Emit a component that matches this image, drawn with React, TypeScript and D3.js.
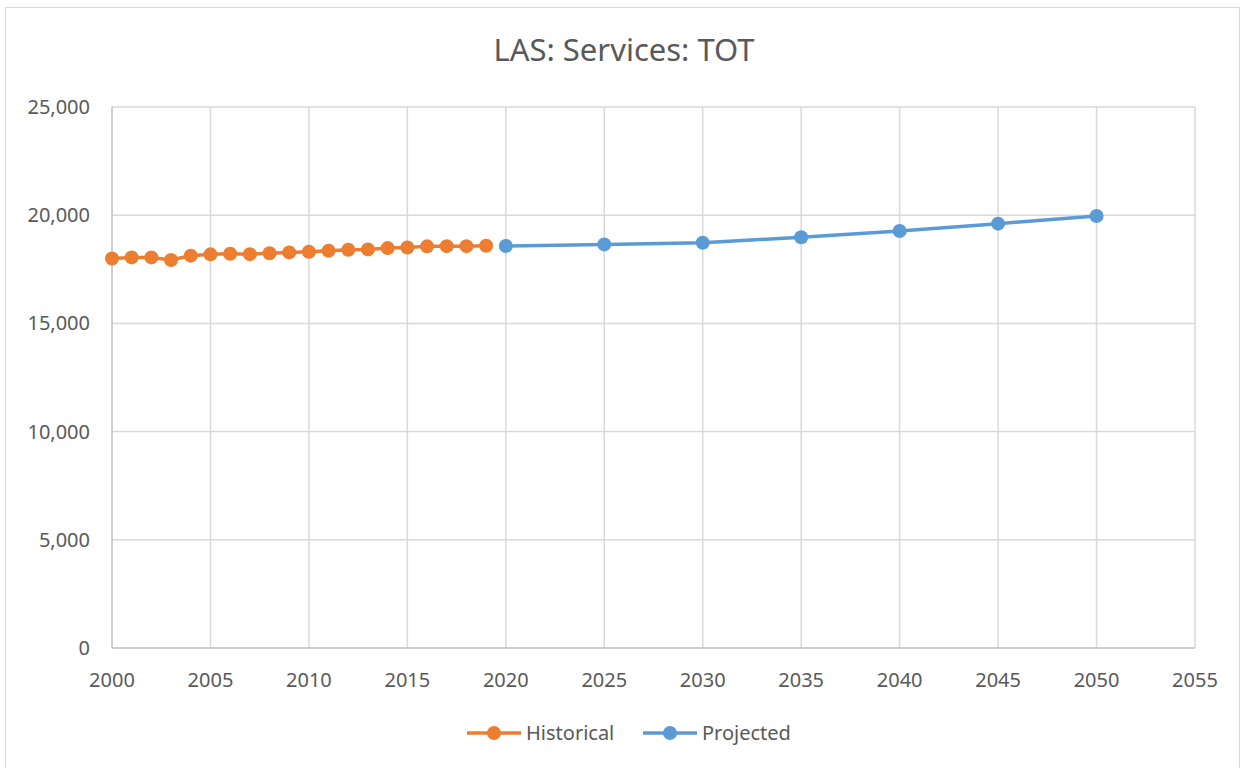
import React, { useEffect, useRef } from "react";
import * as d3 from "d3";

const histYears = [2000, 2001, 2002, 2003, 2004, 2005, 2006, 2007, 2008, 2009, 2010, 2011, 2012, 2013, 2014, 2015, 2016, 2017, 2018, 2019];
const histValues = [18000, 18050, 18050, 17930, 18130, 18190, 18220, 18200, 18240, 18280, 18310, 18360, 18400, 18420, 18480, 18510, 18560, 18570, 18570, 18590];
const projYears = [2020, 2025, 2030, 2035, 2040, 2045, 2050];
const projValues = [18580, 18650, 18730, 18980, 19270, 19610, 19960];
const xTicks = [2000, 2005, 2010, 2015, 2020, 2025, 2030, 2035, 2040, 2045, 2050, 2055];
const yTicks = [0, 5000, 10000, 15000, 20000, 25000];

const W = 1242;
const H = 768;
const font = "'Noto Sans', 'Open Sans', sans-serif";

const App = () => {
  const svgRef = useRef<SVGSVGElement>(null);

  useEffect(() => {
    const svg = d3.select(svgRef.current);
    svg.selectAll("*").remove();

    const x = d3.scaleLinear().domain([2000, 2055]).range([112, 1195]);
    const y = d3.scaleLinear().domain([0, 25000]).range([648, 107]);

    // chart border
    svg.append("rect")
      .attr("x", 5.5).attr("y", 7.5)
      .attr("width", 1234).attr("height", 770)
      .attr("fill", "#fff").attr("stroke", "#d9d9d9");

    // title
    svg.append("text")
      .attr("x", 624).attr("y", 61)
      .attr("text-anchor", "middle")
      .style("font-family", font).style("font-size", "31px")
      .attr("fill", "#595959")
      .text("LAS: Services: TOT");

    // grid
    const grid = svg.append("g");
    grid.selectAll(".hg").data(yTicks.slice(1)).join("line")
      .attr("x1", x(2000)).attr("x2", x(2055))
      .attr("y1", (d) => y(d)).attr("y2", (d) => y(d))
      .attr("stroke", "#d9d9d9").attr("stroke-width", 1.5);
    grid.selectAll(".vg").data(xTicks.slice(1)).join("line")
      .attr("x1", (d) => x(d)).attr("x2", (d) => x(d))
      .attr("y1", y(25000)).attr("y2", y(0))
      .attr("stroke", "#d9d9d9").attr("stroke-width", 1.5);

    // axis lines
    svg.append("line")
      .attr("x1", x(2000)).attr("x2", x(2055)).attr("y1", y(0)).attr("y2", y(0))
      .attr("stroke", "#bfbfbf").attr("stroke-width", 1.5);
    svg.append("line")
      .attr("x1", x(2000)).attr("x2", x(2000)).attr("y1", y(25000)).attr("y2", y(0))
      .attr("stroke", "#bfbfbf").attr("stroke-width", 1.5);

    // tick labels
    svg.append("g").selectAll("text").data(yTicks).join("text")
      .attr("x", 90).attr("y", (d) => y(d))
      .attr("dy", "0.35em").attr("text-anchor", "end")
      .style("font-family", font).style("font-size", "20px")
      .attr("fill", "#595959")
      .text((d) => d3.format(",")(d));
    svg.append("g").selectAll("text").data(xTicks).join("text")
      .attr("x", (d) => x(d)).attr("y", 680)
      .attr("dy", "0.35em").attr("text-anchor", "middle")
      .style("font-family", font).style("font-size", "20px")
      .attr("fill", "#595959")
      .text((d) => String(d));

    const line = d3.line<[number, number]>().x((d) => x(d[0])).y((d) => y(d[1]));

    const series = [
      { name: "Historical", color: "#ED7D31", data: histYears.map((yr, i) => [yr, histValues[i]] as [number, number]) },
      { name: "Projected", color: "#5B9BD5", data: projYears.map((yr, i) => [yr, projValues[i]] as [number, number]) },
    ];

    series.forEach((s) => {
      svg.append("path").datum(s.data)
        .attr("d", line).attr("fill", "none")
        .attr("stroke", s.color).attr("stroke-width", 3.5);
      svg.append("g").selectAll("circle").data(s.data).join("circle")
        .attr("cx", (d) => x(d[0])).attr("cy", (d) => y(d[1]))
        .attr("r", 7).attr("fill", s.color);
    });

    // legend
    const legendX = [467, 643];
    series.forEach((s, i) => {
      const g = svg.append("g").attr("transform", `translate(${legendX[i]},733)`);
      g.append("line").attr("x1", 0).attr("x2", 54).attr("y1", 0).attr("y2", 0)
        .attr("stroke", s.color).attr("stroke-width", 3.5);
      g.append("circle").attr("cx", 27).attr("cy", 0).attr("r", 7).attr("fill", s.color);
      g.append("text").attr("x", 59).attr("y", 0).attr("dy", "0.35em")
        .style("font-family", font).style("font-size", "20px")
        .attr("fill", "#595959").text(s.name);
    });
  }, []);

  return (
    <svg
      ref={svgRef}
      width={W}
      height={H}
      style={{ position: "absolute", left: 0, top: 0, display: "block" }}
    />
  );
};

export default App;
